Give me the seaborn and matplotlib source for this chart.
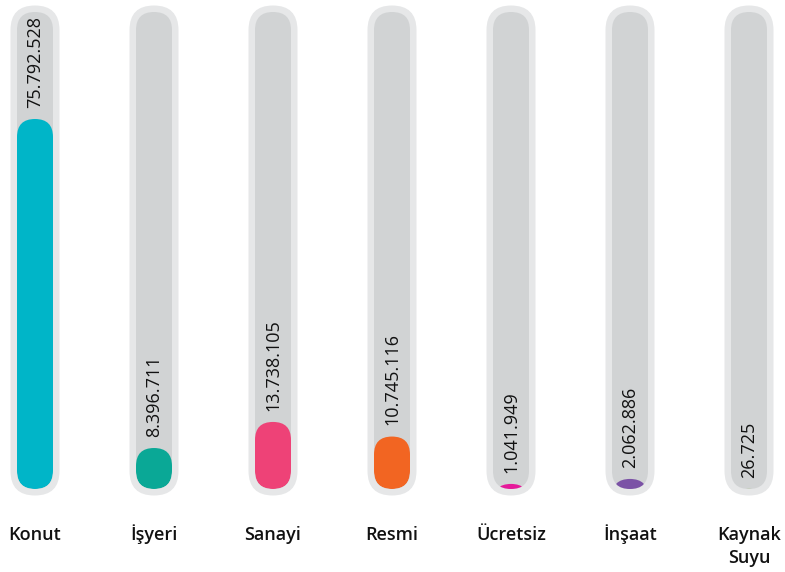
import numpy as np
import seaborn as sns
import matplotlib.pyplot as plt
from matplotlib.patches import FancyBboxPatch

# data
categories = ["Konut", "İşyeri", "Sanayi", "Resmi", "Ücretsiz", "İnşaat", "Kaynak\nSuyu"]
values = [75792528, 8396711, 13738105, 10745116, 1041949, 2062886, 26725]
colors = ["#00b5c8", "#0aa896", "#ee4277", "#f26522", "#e6199a", "#7b52a6", "#8dc63f"]

plt.rcParams['font.family'] = ['Open Sans', 'DejaVu Sans']

W, H = 785, 572
fig = plt.figure(figsize=(W / 100, H / 100), dpi=100)
ax = fig.add_axes([0, 0, 1, 1])

sns.barplot(x=list(range(len(categories))), y=values, hue=list(range(len(categories))),
            palette=colors, saturation=1, legend=False, ax=ax)

# layout in pixels: first column centre, column step, baseline and y scale
step, x0 = 119, 35
base = 83
ppy = 370 / 75.79e6
ax.set_xlim(-x0 / step, (W - x0) / step)
ax.set_ylim(-base / ppy, (H - base) / ppy)
sx, sy = 1 / step, 1 / ppy


def pill(xc, y0px, wpx, hpx, color, z):
    r = min(wpx, hpx) / 2 * sx
    p = FancyBboxPatch((xc - wpx / 2 * sx, y0px * sy), wpx * sx, hpx * sy,
                       boxstyle=f"round,pad=0,rounding_size={r}",
                       mutation_aspect=sy / sx, fc=color, ec="none", zorder=z)
    ax.add_patch(p)
    return p


inner_w, inner_h, pad = 36, 477, 6.5
bars = sorted(ax.patches, key=lambda b: b.get_x())
for bar in bars:
    xc = bar.get_x() + bar.get_width() / 2
    val = bar.get_height()
    col = bar.get_facecolor()
    bar.remove()

    pill(xc, -pad, inner_w + 2 * pad, inner_h + 2 * pad, "#e6e7e8", 1)
    track = pill(xc, 0, inner_w, inner_h, "#d1d3d4", 2)

    hpx = val * ppy
    fill_h = max(hpx, inner_w)
    f = pill(xc, hpx - fill_h, inner_w, fill_h, col, 3)
    f.set_clip_path(track)

    label = f"{int(val):,}".replace(",", ".")
    ax.annotate(label, xy=(xc, val), xytext=(0, 8), textcoords="offset points",
                rotation=90, ha="center", va="bottom", fontsize=13,
                fontweight="medium", color="#111111")

# category names, one line at a time so every first line sits on the same baseline
for i, cat in enumerate(categories):
    for k, line in enumerate(cat.split("\n")):
        ax.annotate(line, xy=(i, 0), xytext=(0, -37 - 16 * k), textcoords="offset points",
                    ha="center", va="baseline", fontsize=13, fontweight="semibold",
                    color="#111111")

ax.set_axis_off()
fig.savefig("out.png", dpi=100)
